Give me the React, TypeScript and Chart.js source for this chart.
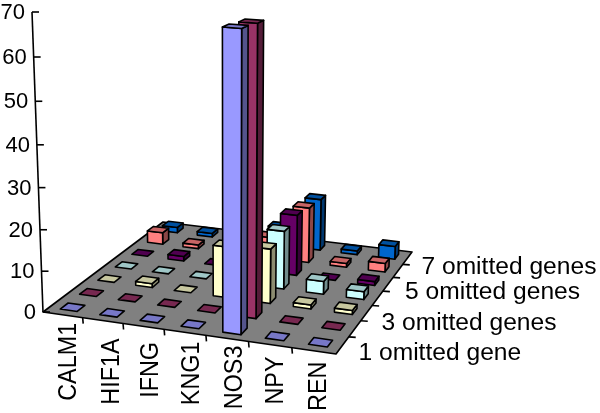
import React, { useEffect, useRef } from "react";
import { Chart, BarController, BarElement, CategoryScale, LinearScale } from "chart.js";

const categories = ["CALM1", "HIF1A", "IFNG", "KNG1", "NOS3", "NPY", "REN"];
const seriesNames = ["1 omitted gene", "2 omitted genes", "3 omitted genes", "4 omitted genes", "5 omitted genes", "6 omitted genes", "7 omitted genes"];
const s1 = [0, 0, 0, 0, 69.2, 0, 0];
const s2 = [0, 0, 0, 0, 68.7, 0, 0];
const s3 = [0, 1, 0, 12.8, 13.6, 1, 1];
const s4 = [0, 0, 0, 0, 14.8, 3.3, 2];
const s5 = [0, 1.2, 0, 0, 15.8, 0, 1];
const s6 = [3.2, 1, 0, 5.5, 14.7, 1, 2.3];
const s7 = [1.5, 1, 0, 5, 14, 1, 3.5];
const seriesValues = [s1, s2, s3, s4, s5, s6, s7];
const faceColors = ["#9999FF", "#993366", "#FFFFCC", "#CCFFFF", "#660066", "#FF8080", "#0066CC"];
const yTicks = [0, 10, 20, 30, 40, 50, 60, 70];

// layout of the floor (front-left, front-right, back-right, back-left)
const FL = [43, 312], FR = [336, 354], BR = [412, 252], BL = [163, 222];
const AXIS_WARP = 0.059;
const LEAN = 1.96e-4;
const LEAN_X = 230;
const BAR_W = 0.43;
const BAR_D = 0.4;
// label layout
const catNudgeX = [6, 9, 7.5, 7, 8, 6, 5];
const catDropY = [47, 51, 43.5, 41, 39, 36, 35.5];
const serNudge = [[16, 8], [0, 0], [15, 10], [0, 0], [17, 8], [0, 0], [14, 9.5]];

const homography = () => {
  const [x0, y0] = FL, [x1, y1] = FR, [x2, y2] = BR, [x3, y3] = BL;
  const sx = x0 - x1 + x2 - x3, sy = y0 - y1 + y2 - y3;
  const dx1 = x1 - x2, dx2 = x3 - x2, dy1 = y1 - y2, dy2 = y3 - y2;
  const det = dx1 * dy2 - dx2 * dy1;
  const g = (sx * dy2 - dx2 * sy) / det;
  const h = (dx1 * sy - sx * dy1) / det;
  const a = x1 - x0 + g * x1, b = x3 - x0 + h * x3;
  const d = y1 - y0 + g * y1, e = y3 - y0 + h * y3;
  return (u: number, v: number) => {
    const w = g * u + h * v + 1;
    return { x: (a * u + b * v + x0) / w, y: (d * u + e * v + y0) / w, s: 1 / w };
  };
};
const floor = homography();

class PerspectiveScale extends LinearScale {
  static id = "perspective";
  static defaults = LinearScale.defaults;
  getPixelForValue(value: number) {
    const t = (value - (this as any).min) / ((this as any).max - (this as any).min);
    return (this as any).getPixelForDecimal(t / (1 + AXIS_WARP * (1 - t)));
  }
}

class Bar3DController extends BarController {
  static id = "bar3d";
  static defaults = BarController.defaults;
  static overrides = BarController.overrides;
  draw() {}
}

const shade = (hex: string, f: number) => {
  const n = parseInt(hex.slice(1), 16);
  const c = (sh: number) => Math.round(((n >> sh) & 255) * f);
  return `rgb(${c(16)},${c(8)},${c(0)})`;
};

const scene = {
  id: "scene3d",
  afterDatasetsDraw(chart: any) {
    const { ctx, scales } = chart;
    const xs = scales.x, ys = scales.y;
    const base = ys.getPixelForValue(0);
    const lift = (u: number, v: number, value: number) => {
      const p = floor(u, v);
      const H = (base - ys.getPixelForValue(value)) * p.s;
      return [p.x + (p.x - LEAN_X) * H * LEAN, p.y - H];
    };
    const poly = (pts: number[][], fill: string | null) => {
      ctx.beginPath();
      pts.forEach((p, i) => (i ? ctx.lineTo(p[0], p[1]) : ctx.moveTo(p[0], p[1])));
      ctx.closePath();
      if (fill) { ctx.fillStyle = fill; ctx.fill(); }
      ctx.stroke();
    };
    ctx.save();
    ctx.lineJoin = "round";
    ctx.strokeStyle = "#000";
    ctx.lineWidth = 1.6;
    poly([FL, FR, BR, BL], "#808080");

    const nCat = chart.data.labels.length;
    const nSer = chart.data.datasets.length;
    const cellU = 1 / nCat;
    for (let i = 1; i < nCat; i++) {
      const p = floor(i * cellU, 0);
      ctx.beginPath(); ctx.moveTo(p.x, p.y); ctx.lineTo(p.x + 0.5, p.y + 6); ctx.stroke();
    }
    for (let j = 1; j < nSer; j++) {
      const p = floor(1, j / nSer);
      ctx.beginPath(); ctx.moveTo(p.x, p.y); ctx.lineTo(p.x + 7, p.y + 0.5); ctx.stroke();
    }

    ctx.beginPath();
    const top = lift(0, 0, ys.max);
    ctx.moveTo(FL[0], FL[1]); ctx.lineTo(top[0], top[1]); ctx.stroke();
    ctx.fillStyle = "#000";
    ctx.font = '22px "Liberation Sans"';
    ctx.textAlign = "right";
    ctx.textBaseline = "middle";
    ys.ticks.forEach((t: any) => {
      const p = lift(0, 0, t.value);
      ctx.beginPath(); ctx.moveTo(p[0], p[1]); ctx.lineTo(p[0] + 7, p[1]); ctx.stroke();
      ctx.fillText(String(t.value), p[0] - 7, p[1] + 1);
    });

    ctx.font = '23.4px "Liberation Sans"';
    chart.data.labels.forEach((label: string, i: number) => {
      const u = (xs.getPixelForValue(i) - xs.left) / xs.width;
      const p = floor(u, 0);
      ctx.save();
      ctx.translate(p.x + catNudgeX[i], p.y + catDropY[i]);
      ctx.rotate(-Math.PI / 2);
      ctx.scale(1, 1.07);
      ctx.textAlign = "center";
      ctx.textBaseline = "middle";
      ctx.fillText(label, 0, 0);
      ctx.restore();
    });

    ctx.font = '24.6px "Liberation Sans"';
    ctx.textAlign = "left";
    chart.data.datasets.forEach((ds: any, j: number) => {
      if (j % 2) return;
      const p = floor(1, (j + 0.5) / nSer);
      ctx.fillStyle = "#000";
      ctx.fillText(ds.label, p.x + serNudge[j][0], p.y + serNudge[j][1]);
    });

    for (let j = nSer - 1; j >= 0; j--) {
      const ds = chart.data.datasets[j];
      const v0 = (j + 0.5 - BAR_D / 2) / nSer, v1 = (j + 0.5 + BAR_D / 2) / nSer;
      ds.data.forEach((val: number, i: number) => {
        const uc = (xs.getPixelForValue(i) - xs.left) / xs.width;
        const u0 = uc - (BAR_W / 2) * cellU, u1 = uc + (BAR_W / 2) * cellU;
        const col = ds.faceColor;
        if (val > 0) {
          poly([lift(u1, v0, 0), lift(u1, v1, 0), lift(u1, v1, val), lift(u1, v0, val)], shade(col, 0.55));
          poly([lift(u0, v0, 0), lift(u1, v0, 0), lift(u1, v0, val), lift(u0, v0, val)], col);
        }
        poly([lift(u0, v0, val), lift(u1, v0, val), lift(u1, v1, val), lift(u0, v1, val)], shade(col, 0.78));
      });
    }
    ctx.restore();
  },
};

Chart.register(BarController, BarElement, CategoryScale, LinearScale, PerspectiveScale, Bar3DController, scene);

export default function App() {
  const ref = useRef<HTMLCanvasElement>(null);
  useEffect(() => {
    const chart = new Chart(ref.current!, {
      type: "bar3d" as any,
      data: {
        labels: categories,
        datasets: seriesNames.map((label, j) => ({
          label,
          data: seriesValues[j],
          faceColor: faceColors[j],
          backgroundColor: faceColors[j],
        })) as any,
      },
      options: {
        animation: false,
        responsive: false,
        devicePixelRatio: 1,
        layout: { padding: { left: 43, right: 264, top: 12, bottom: 101 } },
        plugins: {},
        scales: {
          x: { type: "category", display: false },
          y: {
            type: "perspective" as any,
            display: false,
            min: 0,
            max: 70,
            afterBuildTicks: (axis: any) => { axis.ticks = yTicks.map((value) => ({ value })); },
          },
        },
      } as any,
    });
    return () => chart.destroy();
  }, []);
  return (
    <canvas
      ref={ref}
      width={600}
      height={413}
      style={{ position: "absolute", left: 0, top: 0, width: 600, height: 413 }}
    />
  );
}
